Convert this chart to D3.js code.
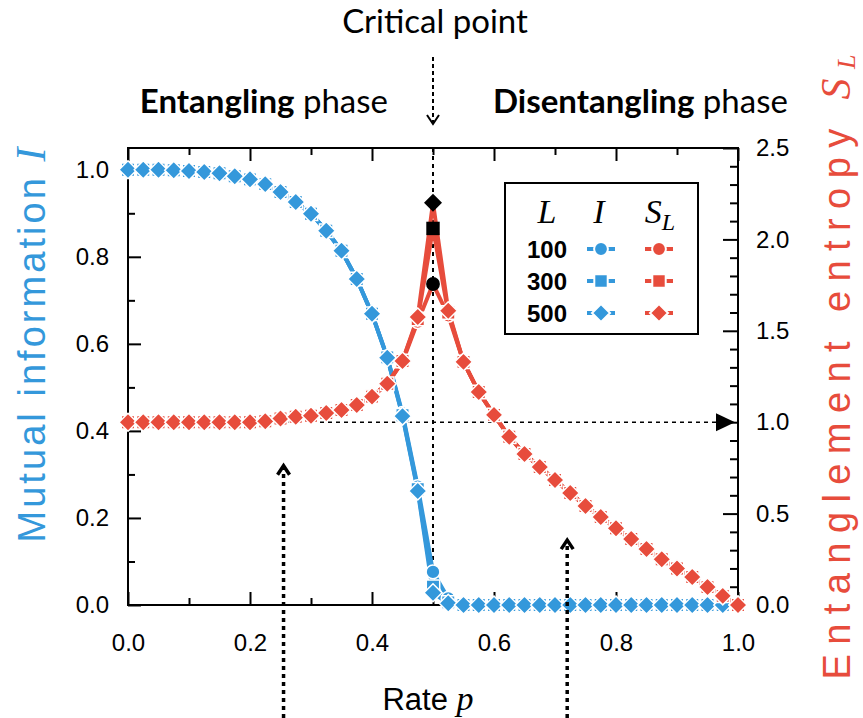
<!DOCTYPE html>
<html>
<head>
<meta charset="utf-8">
<script src="https://cdn.jsdelivr.net/npm/d3@7"></script>
<style>
body { margin: 0; background: #fff; }
svg { display: block; }
.tick text { font-family: "Liberation Sans", Arial, sans-serif; font-size: 24px; fill: #000; }
</style>
</head>
<body>
<svg></svg>
<script>
var width = 863;
var height = 718;

// rate p (x values)
var rates = [0.000, 0.025, 0.050, 0.075, 0.100, 0.125, 0.150, 0.175, 0.200, 0.225,
             0.250, 0.275, 0.300, 0.325, 0.350, 0.375, 0.400, 0.425, 0.450, 0.475,
             0.500, 0.525, 0.550, 0.575, 0.600, 0.625, 0.650, 0.675, 0.700, 0.725,
             0.750, 0.775, 0.800, 0.825, 0.850, 0.875, 0.900, 0.925, 0.950, 0.975, 1.000];

// mutual information I, one list per system size L
var info100 = [1.000, 1.000, 1.000, 0.999, 0.997, 0.995, 0.992, 0.985, 0.978, 0.967,
               0.949, 0.926, 0.899, 0.860, 0.814, 0.749, 0.669, 0.570, 0.440, 0.272,
               0.076, 0.015, 0, 0, 0, 0, 0, 0, 0, 0,
               0, 0, 0, 0, 0, 0, 0, 0, 0, 0, 0];
var info300 = [1.000, 1.000, 1.000, 0.999, 0.997, 0.995, 0.992, 0.985, 0.978, 0.967,
               0.949, 0.926, 0.899, 0.860, 0.814, 0.749, 0.669, 0.569, 0.436, 0.266,
               0.042, 0.006, 0, 0, 0, 0, 0, 0, 0, 0,
               0, 0, 0, 0, 0, 0, 0, 0, 0, 0, 0];
var info500 = [1.000, 1.000, 1.000, 0.999, 0.997, 0.995, 0.992, 0.985, 0.978, 0.967,
               0.949, 0.926, 0.899, 0.860, 0.814, 0.749, 0.669, 0.568, 0.434, 0.262,
               0.028, 0.004, 0, 0, 0, 0, 0, 0, 0, 0,
               0, 0, 0, 0, 0, 0, 0, 0, 0, 0, 0];

// entanglement entropy S_L
var ent100 = [1.000, 1.000, 1.000, 1.000, 1.000, 1.000, 1.000, 1.000, 1.000, 1.005,
              1.020, 1.030, 1.035, 1.050, 1.067, 1.094, 1.140, 1.210, 1.330, 1.550,
              1.756, 1.585, 1.330, 1.165, 1.040, 0.920, 0.826, 0.755, 0.684, 0.613,
              0.542, 0.481, 0.420, 0.361, 0.306, 0.250, 0.200, 0.153, 0.098, 0.050, 0.000];
var ent300 = [1.000, 1.000, 1.000, 1.000, 1.000, 1.000, 1.000, 1.000, 1.000, 1.005,
              1.020, 1.030, 1.035, 1.050, 1.067, 1.094, 1.140, 1.210, 1.335, 1.565,
              2.060, 1.600, 1.330, 1.165, 1.040, 0.920, 0.826, 0.755, 0.684, 0.613,
              0.542, 0.481, 0.420, 0.361, 0.306, 0.250, 0.200, 0.153, 0.098, 0.050, 0.000];
var ent500 = [1.000, 1.000, 1.000, 1.000, 1.000, 1.000, 1.000, 1.000, 1.000, 1.005,
              1.020, 1.030, 1.035, 1.050, 1.067, 1.094, 1.140, 1.210, 1.335, 1.575,
              2.200, 1.610, 1.330, 1.165, 1.040, 0.920, 0.826, 0.755, 0.684, 0.613,
              0.542, 0.481, 0.420, 0.361, 0.306, 0.250, 0.200, 0.153, 0.098, 0.050, 0.000];

var sizes = ["100", "300", "500"];
var shapes = ["circle", "square", "diamond"];
var criticalRate = 0.5;

var xTicks = [0, 0.2, 0.4, 0.6, 0.8, 1.0];
var xMinor = [0.1, 0.3, 0.5, 0.7, 0.9];
var leftTicks = [0, 0.2, 0.4, 0.6, 0.8, 1.0];
var leftMinor = [0.1, 0.3, 0.5, 0.7, 0.9];
var rightTicks = [0, 0.5, 1.0, 1.5, 2.0, 2.5];
var rightMinor = [0.1, 0.2, 0.3, 0.4, 0.6, 0.7, 0.8, 0.9, 1.1, 1.2, 1.3, 1.4,
                  1.6, 1.7, 1.8, 1.9, 2.1, 2.2, 2.3, 2.4];

var blue = "#3498db";
var red = "#e74c3c";
var mathFont = "'Liberation Serif', 'DejaVu Serif', serif";
var labelFont = "'Liberation Sans', Arial, sans-serif";
var titleFont = "Lato, 'Open Sans', sans-serif";

var plot = {left: 128, right: 738, top: 148, bottom: 605};

var svg = d3.select("svg")
    .attr("width", width)
    .attr("height", height);

var x = d3.scaleLinear().domain([0, 1]).range([plot.left, plot.right]);
var yL = d3.scaleLinear().domain([0, 1.05]).range([plot.bottom, plot.top]);
var yR = d3.scaleLinear().domain([0, 2.5]).range([plot.bottom, plot.top]);

// marker path centred at 0,0
function marker(shape) {
  if (shape == "circle") return d3.symbol().type(d3.symbolCircle).size(150)();
  if (shape == "square") return d3.symbol().type(d3.symbolSquare).size(180)();
  var h = 9;
  return "M0," + (-h) + "L" + h + ",0L0," + h + "L" + (-h) + ",0Z";
}

// ---- axes ----
function drawAxis(axis, tr, minor) {
  var g = svg.append("g").attr("transform", tr).call(axis);
  g.select(".domain").remove();
  g.selectAll(".tick line").attr("stroke", "#000").attr("stroke-width", 2);
  if (minor) g.selectAll(".tick text").remove();
  return g;
}

drawAxis(d3.axisBottom(x).tickValues(xTicks).tickSize(-13).tickPadding(29).tickFormat(d3.format(".1f")),
  "translate(0," + plot.bottom + ")");
drawAxis(d3.axisBottom(x).tickValues(xMinor).tickSize(-7), "translate(0," + plot.bottom + ")", true);
drawAxis(d3.axisTop(x).tickValues(xTicks).tickSize(-13), "translate(0," + plot.top + ")", true);
drawAxis(d3.axisTop(x).tickValues(xMinor).tickSize(-7), "translate(0," + plot.top + ")", true);

drawAxis(d3.axisLeft(yL).tickValues(leftTicks).tickSize(-13).tickPadding(19).tickFormat(d3.format(".1f")),
  "translate(" + plot.left + ",0)");
drawAxis(d3.axisLeft(yL).tickValues(leftMinor).tickSize(-7), "translate(" + plot.left + ",0)", true);

drawAxis(d3.axisRight(yR).tickValues(rightTicks).tickSize(-15).tickPadding(18).tickFormat(d3.format(".1f")),
  "translate(" + plot.right + ",0)");
drawAxis(d3.axisRight(yR).tickValues(rightMinor).tickSize(-8), "translate(" + plot.right + ",0)", true);

svg.append("rect")
    .attr("x", plot.left).attr("y", plot.top)
    .attr("width", plot.right - plot.left).attr("height", plot.bottom - plot.top)
    .attr("fill", "none").attr("stroke", "#000").attr("stroke-width", 2);

// ---- guide lines ----
svg.append("line")
    .attr("x1", x(criticalRate)).attr("x2", x(criticalRate))
    .attr("y1", plot.top).attr("y2", plot.bottom)
    .attr("stroke", "#000").attr("stroke-width", 2).attr("stroke-dasharray", "4,4");

svg.append("line")
    .attr("x1", x(0)).attr("x2", x(0.965))
    .attr("y1", yR(1)).attr("y2", yR(1))
    .attr("stroke", "#000").attr("stroke-width", 1.6).attr("stroke-dasharray", "4,4");

svg.append("path")
    .attr("d", "M" + (x(1) - 22) + "," + (yR(1) - 9) + "L" + (x(1) - 3) + "," + yR(1) +
               "L" + (x(1) - 22) + "," + (yR(1) + 9) + "Z")
    .attr("fill", "#000");

// ---- series ----
function drawSeries(lists, yScale, color, isEntropy) {
  var layer = svg.append("g");
  lists.forEach(function(vals, k) {
    var pts = rates.map(function(p, i) { return {p: p, v: vals[i]}; });
    layer.append("path")
        .datum(pts)
        .attr("fill", "none")
        .attr("stroke", color)
        .attr("stroke-width", 4)
        .attr("stroke-linejoin", "round")
        .attr("d", d3.line().x(function(d) { return x(d.p); }).y(function(d) { return yScale(d.v); }));
  });
  lists.forEach(function(vals, k) {
    var pts = rates.map(function(p, i) { return {p: p, v: vals[i]}; });
    layer.selectAll(".m" + k)
        .data(pts)
        .enter().append("path")
        .attr("d", marker(shapes[k]))
        .attr("transform", function(d) { return "translate(" + x(d.p) + "," + yScale(d.v) + ")"; })
        .attr("fill", function(d) { return (isEntropy && d.p == criticalRate) ? "#000" : color; })
        .attr("stroke", function(d) { return (isEntropy && d.p == criticalRate) ? "none" : "#fff"; })
        .attr("stroke-width", 1.5);
  });
}

drawSeries([info100, info300, info500], yL, blue, false);
drawSeries([ent100, ent300, ent500], yR, red, true);

// ---- legend ----
var leg = svg.append("g");
leg.append("rect")
    .attr("x", 505).attr("y", 183).attr("width", 193).attr("height", 151)
    .attr("fill", "#fff").attr("stroke", "#000").attr("stroke-width", 2);

var headY = 223;
function mathText(xp, letter, sub) {
  var t = leg.append("text").attr("x", xp).attr("y", headY).attr("text-anchor", "middle")
      .style("font-family", mathFont).style("font-style", "italic").style("font-size", "34px");
  t.append("tspan").text(letter);
  if (sub) t.append("tspan").attr("dy", 7).style("font-size", "24px").text(sub);
}
mathText(547, "L");
mathText(599, "I");
mathText(660, "S", "L");

var rowY = [249, 281, 313];
sizes.forEach(function(s, k) {
  leg.append("text").attr("x", 567).attr("y", rowY[k] + 8.5).attr("text-anchor", "end")
      .style("font-family", labelFont).style("font-weight", "bold").style("font-size", "24px").text(s);
  [[601, blue], [659, red]].forEach(function(c) {
    leg.append("line").attr("x1", c[0] - 14).attr("x2", c[0] + 14)
        .attr("y1", rowY[k]).attr("y2", rowY[k])
        .attr("stroke", c[1]).attr("stroke-width", 4);
    leg.append("path").attr("d", marker(shapes[k]))
        .attr("transform", "translate(" + c[0] + "," + rowY[k] + ")")
        .attr("fill", c[1]).attr("stroke", "#fff").attr("stroke-width", 2);
  });
});

// ---- axis titles ----
var xt = svg.append("text").attr("x", 428).attr("y", 710).attr("text-anchor", "middle")
    .style("font-family", labelFont).style("font-size", "31px");
xt.append("tspan").text("Rate ");
xt.append("tspan").style("font-family", mathFont).style("font-style", "italic").style("font-size", "34px").text("p");

var yt = svg.append("text").attr("transform", "translate(45,345) rotate(-90)").attr("text-anchor", "middle")
    .attr("textLength", 395).attr("lengthAdjust", "spacing")
    .style("font-family", labelFont).style("font-size", "38px").attr("fill", blue);
yt.append("tspan").text("Mutual information ");
yt.append("tspan").style("font-family", mathFont).style("font-style", "italic").style("font-size", "42px").text("I");

var yt2 = svg.append("text").attr("transform", "translate(850,367) rotate(-90)").attr("text-anchor", "middle")
    .attr("textLength", 625).attr("lengthAdjust", "spacing")
    .style("font-family", labelFont).style("font-size", "38px").attr("fill", red);
yt2.append("tspan").text("Entanglement entropy ");
yt2.append("tspan").style("font-family", mathFont).style("font-style", "italic").style("font-size", "42px").text("S");
yt2.append("tspan").attr("dy", 5).style("font-family", mathFont).style("font-style", "italic")
    .style("font-size", "26px").text("L");

// ---- phase annotations ----
svg.append("text").attr("x", 435).attr("y", 33).attr("text-anchor", "middle")
    .style("font-family", titleFont).style("font-size", "33px").text("Critical point");

var ph1 = svg.append("text").attr("x", 388).attr("y", 113).attr("text-anchor", "end")
    .style("font-family", titleFont).style("font-size", "33px");
ph1.append("tspan").style("font-weight", "bold").text("Entangling");
ph1.append("tspan").text(" phase");

var ph2 = svg.append("text").attr("x", 493).attr("y", 113).attr("text-anchor", "start")
    .style("font-family", titleFont).style("font-size", "33px");
ph2.append("tspan").style("font-weight", "bold").text("Disentangling");
ph2.append("tspan").text(" phase");

function dottedArrow(xp, yFrom, yTo, w) {
  var dir = yTo > yFrom ? 1 : -1;
  svg.append("line").attr("x1", xp).attr("x2", xp).attr("y1", yFrom).attr("y2", yTo - dir * 2)
      .attr("stroke", "#000").attr("stroke-width", w).attr("stroke-dasharray", w == 2 ? "4,3" : "4,4");
  svg.append("path")
      .attr("d", "M" + (xp - 6) + "," + (yTo - dir * 9) + "L" + xp + "," + yTo + "L" + (xp + 6) + "," + (yTo - dir * 9))
      .attr("fill", "none").attr("stroke", "#000").attr("stroke-width", w);
}

dottedArrow(x(criticalRate), 57, 124, 2);
dottedArrow(x(0.255), height, yL(0.32), 3.5);
dottedArrow(x(0.72), height, yL(0.149), 3.5);
</script>
</body>
</html>
